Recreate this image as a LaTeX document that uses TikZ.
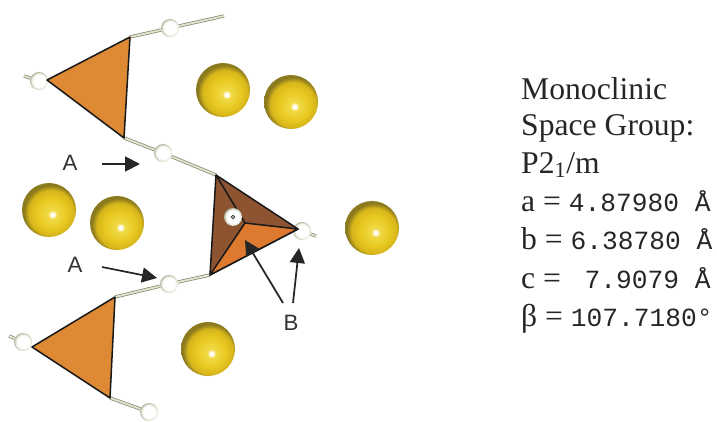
\documentclass[tikz,border=0pt]{standalone}
\usepackage{fontspec}
\setmainfont{Liberation Serif}
\setsansfont{Liberation Sans}
\setmonofont{Liberation Mono}
\usepackage{xcolor}
\usepackage{tikz}
\usetikzlibrary{
    arrows.meta,
    shapes.geometric
}
\definecolor{triorange}{RGB}{222,138,52}
\definecolor{midorange}{RGB}{222,122,48}
\definecolor{midbrown}{RGB}{142,84,50}
\definecolor{stickpale}{RGB}{226,228,208}
\definecolor{stickdark}{RGB}{128,132,104}
\definecolor{ballglow}{RGB}{240,218,70}
\definecolor{ballmain}{RGB}{232,200,32}
\definecolor{ballshade}{RGB}{214,182,26}
\definecolor{ballrim}{RGB}{140,122,30}
\definecolor{atomshade}{RGB}{222,226,208}
\definecolor{atomrim}{RGB}{176,180,156}
\pgfdeclareradialshading{yellowball}{\pgfpoint{3.5bp}{-4.5bp}}{
    color(0bp)=(white); color(1.5bp)=(white); color(4bp)=(ballglow);
    color(14bp)=(ballmain); color(21bp)=(ballshade);
    color(25bp)=(ballrim); color(50bp)=(ballrim)}
\pgfdeclareradialshading{whiteball}{\pgfpoint{1bp}{0bp}}{
    color(0bp)=(white); color(17bp)=(white);
    color(23bp)=(atomshade); color(25bp)=(atomrim);
    color(50bp)=(atomrim)}
\tikzstyle{arrow} = [-{Triangle[length=15*0.853pt,width=15*0.853pt]}, line width=1.5pt, black!85]
\tikzstyle{stick} = [draw=stickdark, line width=0.6pt, double=stickpale, double distance=1.6pt]
\tikzstyle{sphere} = [circle, minimum size=1.62cm, inner sep=0pt, shading=yellowball]
\tikzstyle{atom} = [circle, minimum size=0.54cm, inner sep=0pt, shading=whiteball]
\tikzstyle{face} = [draw=black!90, line width=1.3pt, line join=round]
\tikzstyle{letter} = [font=\sffamily\fontsize{19}{19}\selectfont, text=black!80]
\tikzstyle{info} = [anchor=base west, inner sep=0pt, font=\fontsize{27}{27}\selectfont, text=black!85]
\newcommand{\cellnum}[1]{{\ttfamily\fontsize{22.4}{22.4}\selectfont #1}}

\begin{document}
\begin{tikzpicture}[x=0.03cm,y=-0.03cm]
\useasboundingbox (0,0) rectangle (717,422);

\coordinate (upTipA) at (47,80);
\coordinate (upTipB) at (130,37);
\coordinate (upTipC) at (124,138);
\coordinate (lowTipA) at (32,347);
\coordinate (lowTipB) at (115,297);
\coordinate (lowTipC) at (110,398);
\coordinate (midTop) at (216,175);
\coordinate (midLow) at (210,275);
\coordinate (midTip) at (298,229);
\coordinate (midCore) at (245,223);
\coordinate (topEnd) at (224,16);
\coordinate (upStub) at (24,76);
\coordinate (midStub) at (316,236);
\coordinate (lowStub) at (9,336);

\node[atom] (atomTop) at (170,28) {};
\node[atom] (atomUp) at (39,81) {};
\node[atom] (atomChainA) at (163,153) {};
\node[atom] (atomChainB) at (169,284) {};
\node[atom] (atomLow) at (23,342) {};
\node[atom] (atomEnd) at (149,412) {};
\node[atom] (atomTip) at (302,231) {};

\draw[stick] (upTipB) -- (atomTop);
\draw[stick] (atomTop) -- (topEnd);
\draw[stick] (upTipC) -- (atomChainA);
\draw[stick] (atomChainA) -- (midTop);
\draw[stick] (midLow) -- (atomChainB);
\draw[stick] (atomChainB) -- (lowTipB);
\draw[stick] (lowTipC) -- (atomEnd);
\draw[stick] (atomTip) -- (midStub);
\draw[stick] (atomUp) -- (upStub);
\draw[stick] (atomLow) -- (lowStub);

\draw[face, fill=triorange] (upTipA) -- (upTipB) -- (upTipC) -- cycle;
\draw[face, fill=triorange] (lowTipA) -- (lowTipB) -- (lowTipC) -- cycle;
\draw[face, fill=midbrown] (midTop) -- (midLow) -- (midTip) -- cycle;
\draw[face, fill=midorange] (midCore) -- (midLow) -- (midTip) -- cycle;
\draw[face] (midTop) -- (midCore);

\node[atom] (atomMid) at (233,217) {};
\draw[line width=0.8pt, black!75] (atomMid.center) circle (1.7);

\node[sphere] (sphereA) at (223,90) {};
\node[sphere] (sphereB) at (291,102) {};
\node[sphere] (sphereC) at (49,210) {};
\node[sphere] (sphereD) at (117,223) {};
\node[sphere] (sphereE) at (372,228) {};
\node[sphere] (sphereF) at (208,349) {};

\node[letter] (labelAup) at (70,163) {A};
\node[letter] (labelAlow) at (75,265) {A};
\node[letter] (labelB) at (291,323) {B};

\coordinate (arrAupS) at (102,164);
\coordinate (arrAupE) at (140,164);
\coordinate (arrAlowS) at (102,267);
\coordinate (arrAlowE) at (157,278);
\coordinate (arrBmidS) at (283,303);
\coordinate (arrBmidE) at (245,240);
\coordinate (arrBtipS) at (293,303);
\coordinate (arrBtipE) at (299,248);
\draw[arrow] (arrAupS) -- (arrAupE);
\draw[arrow] (arrAlowS) -- (arrAlowE);
\draw[arrow] (arrBmidS) -- (arrBmidE);
\draw[arrow] (arrBtipS) -- (arrBtipE);

\node[info] (lineSys) at (521,100) {Monoclinic};
\node[info] (lineGroup) at (521,136) {Space Group:};
\node[info] (lineSym) at (521,173) {P2\textsubscript{1}/m};
\node[info] (lineA) at (521,211) {a = \cellnum{4.87980 Å}};
\node[info] (lineB) at (521,249) {b = \cellnum{6.38780 Å}};
\node[info] (lineC) at (521,288) {c = \cellnum{~7.9079 Å}};
\node[info] (lineBeta) at (521,326) {β = \cellnum{107.7180°}};
\end{tikzpicture}
\end{document}
